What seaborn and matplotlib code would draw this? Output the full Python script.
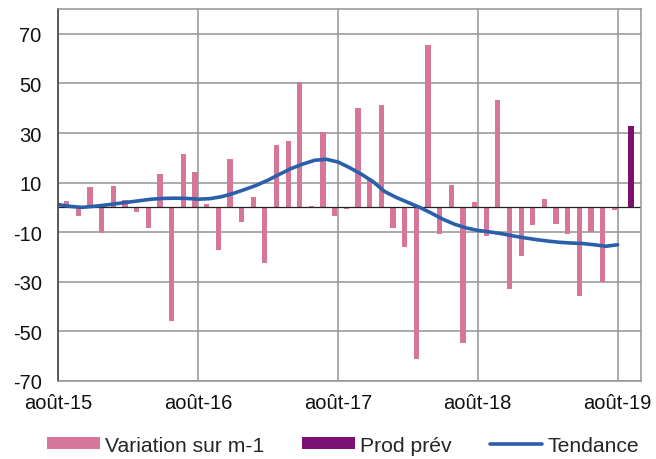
import matplotlib
matplotlib.use("Agg")
import matplotlib.pyplot as plt
import seaborn as sns
import numpy as np
import pandas as pd

# monthly data, aug-15 onwards
tick_labels = ["août-15", "août-16", "août-17", "août-18", "août-19"]
variation = [2.4, -3.3, 8.4, -10.4, 8.8, 2.8, -2.0, -8.4, 13.3, -45.9, 21.4, 14.3,
             1.2, -17.4, 19.4, -6.0, 4.0, -22.5, 25.2, 26.9, 50.6, 0.5, 30.3, -3.6,
             -0.7, 39.9, 11.4, 41.4, -8.2, -15.9, -61.3, 65.5, -10.7, 9.2, -54.6, 2.0,
             -11.6, 43.2, -32.8, -19.8, -7.1, 3.2, -6.7, -10.7, -35.9, -10.0, -30.1, -1.1]
prod_prev = [33.0]
tendance = [1.1, 0.4, 0.0, 0.4, 0.9, 1.5, 2.1, 2.7, 3.3, 3.6, 3.7, 3.6,
            3.3, 3.5, 4.3, 5.6, 7.2, 8.9, 11.0, 13.4, 15.7, 17.5, 19.0, 19.4,
            18.3, 16.0, 13.4, 10.4, 6.4, 4.0, 2.0, 0.0, -2.3, -4.8, -6.8, -8.3,
            -9.3, -9.9, -10.6, -11.5, -12.3, -13.0, -13.6, -14.1, -14.4, -14.6, -15.1, -15.7,
            -15.1]
legend_order = ["Variation sur m-1", "Prod prév", "Tendance"]

sns.set_style("white")
plt.rcParams['font.family'] = ['Liberation Sans', 'DejaVu Sans']
plt.rcParams['font.size'] = 14
plt.rcParams['axes.unicode_minus'] = False

df_var = pd.DataFrame({"x": np.arange(len(variation)) + 0.72, "y": variation})
df_prev = pd.DataFrame({"x": [len(variation) + 1.17], "y": prod_prev})
df_tend = pd.DataFrame({"x": np.arange(len(tendance)), "y": tendance})

fig, ax = plt.subplots(figsize=(6.56, 4.6), dpi=100)
fig.subplots_adjust(left=0.089, right=0.977, top=0.978, bottom=0.17)

sns.barplot(data=df_var, x="x", y="y", native_scale=True, width=0.45,
            color="#d67799", saturation=1, linewidth=0, edgecolor="none",
            label="Variation sur m-1", ax=ax)
sns.barplot(data=df_prev, x="x", y="y", native_scale=True, width=0.52,
            color="#7a1172", saturation=1, linewidth=0, edgecolor="none",
            label="Prod prév", ax=ax)
sns.lineplot(data=df_tend, x="x", y="y", color="#2b5fab", linewidth=2.6,
             label="Tendance", ax=ax)

ax.axhline(0, color="#222222", linewidth=0.9, zorder=1.5)

ax.set_xlim(0, 50)
ax.set_ylim(-70, 80)
ax.set_yticks(range(-70, 71, 20))
ax.set_xticks(range(0, 49, 12))
ax.set_xticklabels(tick_labels)
ax.grid(True, color="#939393", linewidth=1.1)
ax.set_axisbelow(True)
ax.set_xlabel("")
ax.set_ylabel("")
ax.tick_params(axis="both", length=0, labelsize=14.5, colors="#111111")
ax.tick_params(axis="y", pad=12)
ax.tick_params(axis="x", pad=9)

for side in ["top", "right", "bottom"]:
    ax.spines[side].set_color("#939393")
    ax.spines[side].set_linewidth(1.1)
ax.spines["left"].set_color("#444444")
ax.spines["left"].set_linewidth(1.2)

handles, labels = ax.get_legend_handles_labels()
if ax.get_legend() is not None:
    ax.get_legend().remove()
lookup = dict(zip(labels, handles))
fig.legend([lookup[l] for l in legend_order], legend_order, loc="center",
           bbox_to_anchor=(0.523, 0.03), ncol=3, frameon=False, fontsize=15.2,
           handlelength=2.5, handleheight=0.5, handletextpad=0.24, columnspacing=1.8)

fig.savefig("out.png", dpi=100)
